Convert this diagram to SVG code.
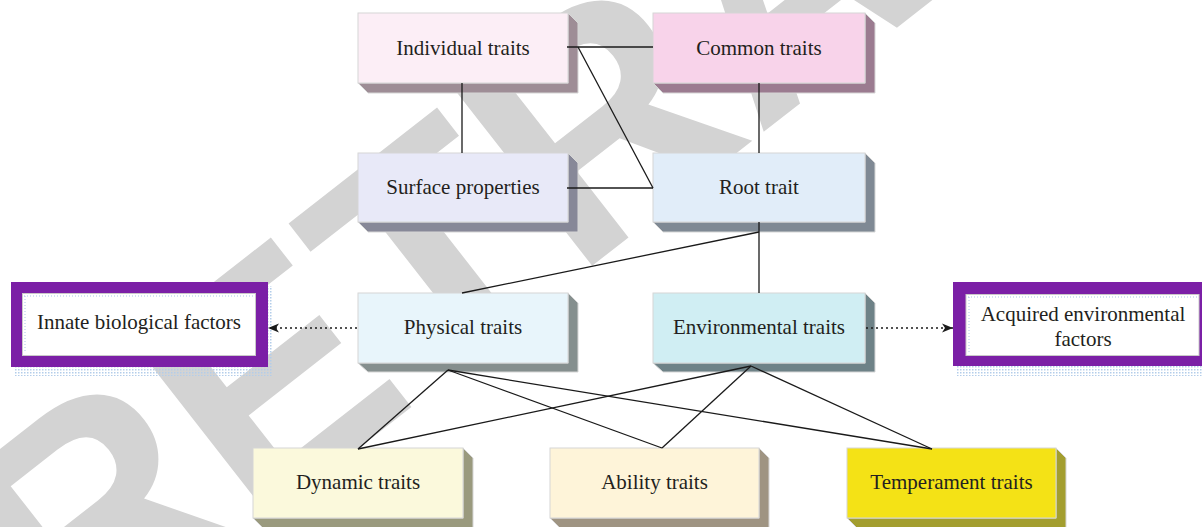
<svg xmlns="http://www.w3.org/2000/svg" width="1202" height="527" viewBox="0 0 1202 527">
<style>
.wm{font-family:"Liberation Sans",Arial,sans-serif;font-weight:bold;font-size:320px;fill:#d3d3d3}
.face{stroke:#d6d6d6;stroke-width:1}
.ext{stroke:#d6d6d6;stroke-width:1}
.lbl{font-family:"Liberation Serif","Times New Roman",serif;font-size:21px;fill:#231f20;text-anchor:middle}
.con{stroke:#1a1a1a;stroke-width:1.3;fill:none}
.dot{stroke:#1a1a1a;stroke-width:1.3;fill:none;stroke-dasharray:2 3}
.pbox{fill:#7b1fa6}
.inner{fill:#ffffff;stroke:#c9c9c9;stroke-width:1}
.blu{fill:none;stroke:#a9c6e6;stroke-width:1;stroke-dasharray:1 2}
</style>
<defs>
<marker id="arr" markerUnits="userSpaceOnUse" markerWidth="12" markerHeight="10" refX="11" refY="5" orient="auto">
<path d="M0,0.5 L11,5 L0,9.5 L3,5 Z" fill="#1a1a1a"/>
</marker>
<pattern id="dots" width="3" height="3" patternUnits="userSpaceOnUse">
<rect x="0" y="0" width="1.5" height="1.5" fill="#b3cdea"/>
</pattern>
</defs>
<rect width="1202" height="527" fill="#ffffff"/>
<g id="watermark">
<text class="wm" transform="translate(71,673) rotate(-38)">RETRACTED</text>
</g>
<g id="n-individual">
<polygon class="ext" fill="#9e8d96" points="358,83 368,93 578,93 578,23 568,13 568,83"/>
<rect class="face" x="358" y="13" width="210" height="70" fill="#fceef6"/>
<text class="lbl" x="463" y="55">Individual traits</text>
</g>
<g id="n-common">
<polygon class="ext" fill="#9b7b90" points="653,83 663,93 875,93 875,23 865,13 865,83"/>
<rect class="face" x="653" y="13" width="212" height="70" fill="#f8d3ea"/>
<text class="lbl" x="759" y="55">Common traits</text>
</g>
<g id="n-surface">
<polygon class="ext" fill="#878898" points="358,222 368,232 578,232 578,163 568,153 568,222"/>
<rect class="face" x="358" y="153" width="210" height="69" fill="#e8e9f8"/>
<text class="lbl" x="463" y="194">Surface properties</text>
</g>
<g id="n-root">
<polygon class="ext" fill="#7f8994" points="653,222 663,232 875,232 875,163 865,153 865,222"/>
<rect class="face" x="653" y="153" width="212" height="69" fill="#e1edf9"/>
<text class="lbl" x="759" y="194">Root trait</text>
</g>
<g id="n-physical">
<polygon class="ext" fill="#858f8e" points="358,363 368,372 578,372 578,303 568,293 568,363"/>
<rect class="face" x="358" y="293" width="210" height="70" fill="#e8f5fb"/>
<text class="lbl" x="463" y="334">Physical traits</text>
</g>
<g id="n-environmental">
<polygon class="ext" fill="#6e8287" points="653,363 663,372 875,372 875,303 865,293 865,363"/>
<rect class="face" x="653" y="293" width="212" height="70" fill="#d0eef3"/>
<text class="lbl" x="759" y="334">Environmental traits</text>
</g>
<g id="n-dynamic">
<polygon class="ext" fill="#9a9a7e" points="253,518 263,528 473,528 473,458 463,448 463,518"/>
<rect class="face" x="253" y="448" width="210" height="70" fill="#fbf9dc"/>
<text class="lbl" x="358" y="489">Dynamic traits</text>
</g>
<g id="n-ability">
<polygon class="ext" fill="#9f9482" points="550,518 560,528 769,528 769,458 759,448 759,518"/>
<rect class="face" x="550" y="448" width="209" height="70" fill="#fef4d9"/>
<text class="lbl" x="654.5" y="489">Ability traits</text>
</g>
<g id="n-temperament">
<polygon class="ext" fill="#a39e2f" points="847,518 857,528 1066,528 1066,458 1056,448 1056,518"/>
<rect class="face" x="847" y="448" width="209" height="70" fill="#f4e216"/>
<text class="lbl" x="951.5" y="489">Temperament traits</text>
</g>
<g id="n-innate">
<rect x="14" y="286" width="258" height="90" fill="url(#dots)"/>
<rect class="pbox" x="11" y="282" width="257" height="85"/>
<rect class="inner" x="22.5" y="293.5" width="233" height="62"/>
<path class="blu" d="M24,296 H254 M25,296 V353"/>
<text class="lbl" x="139" y="329">Innate biological factors</text>
</g>
<g id="n-acquired">
<rect x="956" y="286" width="260" height="90" fill="url(#dots)"/>
<rect class="pbox" x="953" y="282" width="257" height="84"/>
<rect class="inner" x="966" y="294.5" width="233" height="61"/>
<path class="blu" d="M968,297 H1197 M969,297 V353"/>
<text class="lbl" x="1083" y="320.5">Acquired environmental</text>
<text class="lbl" x="1083" y="345.5">factors</text>
</g>
<g id="connectors">
<path class="con" d="M567,47 H653"/>
<path class="con" d="M578,47 L653,188"/>
<path class="con" d="M567,188 H653"/>
<path class="con" d="M462,83 V153"/>
<path class="con" d="M759,83 V153"/>
<path class="con" d="M759,222 V293"/>
<path class="con" d="M759,232 L462,293"/>
<path class="con" d="M448,370 L358,449"/>
<path class="con" d="M448,370 L662,448"/>
<path class="con" d="M448,370 L932,449"/>
<path class="con" d="M751,366 L358,449"/>
<path class="con" d="M751,366 L662,448"/>
<path class="con" d="M751,366 L932,449"/>
<path class="dot" d="M357,328 H268" marker-end="url(#arr)"/>
<path class="dot" d="M866,328 H953" marker-end="url(#arr)"/>
</g>
</svg>
